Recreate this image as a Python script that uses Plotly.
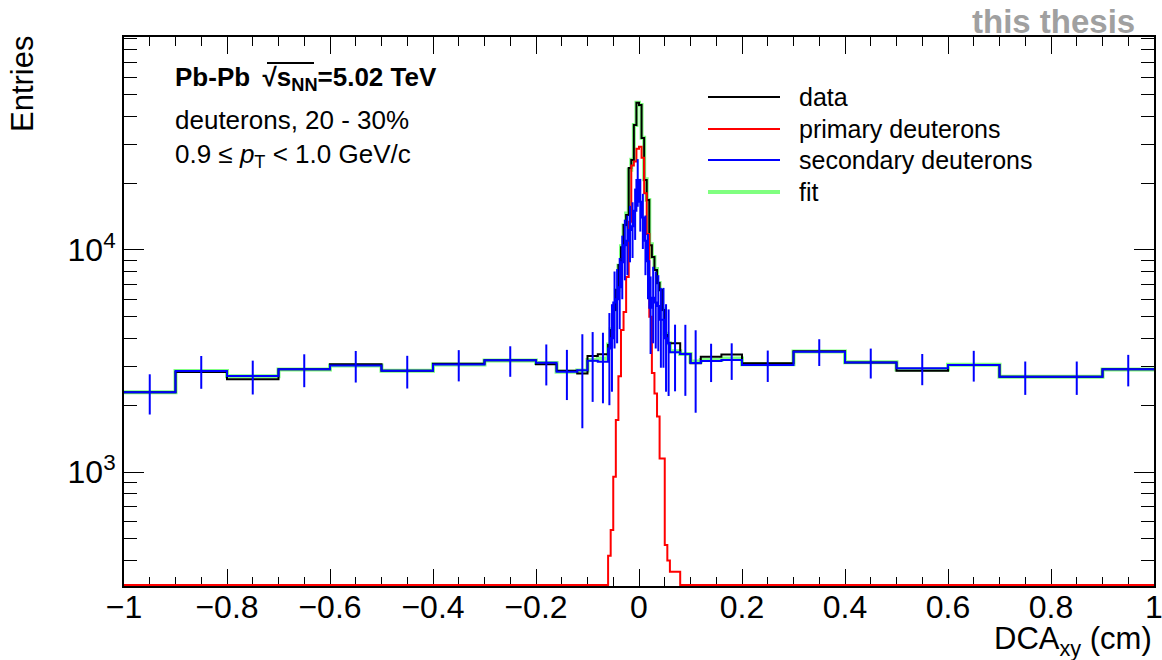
import numpy as np
import plotly.graph_objects as go

# ---------------- data ----------------
BIN_EDGES = [-1.0, -0.9, -0.8, -0.7, -0.6, -0.5, -0.4, -0.3, -0.2,
             -0.16, -0.12, -0.10, -0.08, -0.06,
             -0.055, -0.05, -0.045, -0.04, -0.035, -0.03, -0.025, -0.02, -0.015, -0.01, -0.005, 0.0,
             0.005, 0.01, 0.015, 0.02, 0.025, 0.03, 0.035, 0.04, 0.045, 0.05, 0.055, 0.06,
             0.08, 0.10, 0.12, 0.16, 0.20,
             0.3, 0.4, 0.5, 0.6, 0.7, 0.8, 0.9, 1.0]

data_counts = [2286, 2820, 2615, 2901, 3055, 2858, 3077, 3185,
               3055, 2860, 2780, 3335, 3390,
               3730, 4365, 5370, 6600, 8560, 10300, 12960, 14370, 23400, 25400, 36500, 46000,
               45000, 31900, 20650, 16800, 10500, 9300, 8130, 7100, 6600, 5370, 4140, 3810,
               3800, 3404, 3090, 3305, 3388,
               3090, 3500, 3118, 2858, 3035, 2686, 2686, 2901]

primary_counts = [0, 0, 0, 0, 0, 0, 0, 0,
                  0, 0, 0, 0, 0,
                  420, 548, 953, 1714, 2700, 4365, 5260, 7550, 13400, 24000, 25000, 28600,
                  29200, 26000, 18000, 11800, 5000, 2790, 2260, 1780, 1150, 1150, 470, 400,
                  356, 0, 0, 0, 0,
                  0, 0, 0, 0, 0, 0, 0, 0]

secondary_counts = [2286, 2851, 2705, 2901, 3020, 2858, 3050, 3185,
                    3105, 2830, 2875, 3170, 3140,
                    3600, 4000, 5800, 6000, 6800, 8800, 10500, 11000, 12300, 12800, 15000, 20650,
                    16500, 14000, 11000, 8900, 5500, 6100, 5800, 5600, 4850, 4850, 4000, 3800,
                    3460, 3404, 3100, 3163, 3200,
                    3035, 3484, 3118, 2931, 3035, 2686, 2686, 2901]

secondary_errors = [470, 480, 470, 490, 490, 480, 490, 500,
                    650, 720, 1300, 1100, 1100,
                    1600, 1700, 2200, 2200, 2400, 2800, 3200, 3300, 3500, 3600, 3900, 5000,
                    4400, 3900, 3300, 2900, 2100, 2300, 2200, 2100, 1900, 1900, 1700, 1600,
                    1150, 1200, 1250, 620, 600,
                    490, 480, 480, 470, 480, 460, 460, 470]

fit_counts = [2290, 2850, 2700, 2900, 3020, 2860, 3050, 3180,
              3100, 2830, 2870, 3200, 3250,
              3750, 4400, 5400, 6600, 8500, 10400, 12900, 14600, 23000, 25500, 36500, 46000,
              45000, 32000, 20800, 16800, 10600, 9300, 8200, 7100, 6600, 5400, 4200, 3800,
              3500, 3404, 3150, 3200, 3250,
              3060, 3490, 3120, 2900, 3040, 2690, 2690, 2900]

X_TICKS = [-1.0, -0.8, -0.6, -0.4, -0.2, 0.0, 0.2, 0.4, 0.6, 0.8, 1.0]
X_TICK_LABELS = ["\u22121", "\u22120.8", "\u22120.6", "\u22120.4", "\u22120.2", "0",
                 "0.2", "0.4", "0.6", "0.8", "1"]
Y_TICKS = [1e3, 1e4]
Y_TICK_LABELS = ["10<sup>3</sup>", "10<sup>4</sup>"]
Y_MINOR_TICKS = [400, 500, 600, 700, 800, 900,
                 2000, 3000, 4000, 5000, 6000, 7000, 8000, 9000,
                 20000, 30000, 40000, 50000, 60000, 70000, 80000, 90000]

LEGEND_LABELS = ["data", "primary deuterons", "secondary deuterons", "fit"]

# ---------------- layout geometry ----------------
W, H = 1162, 660
ML, MR, MT, MB = 124, 8, 37, 74
Y_LOG_RANGE = [2.487, 4.959]
FONT = "Liberation Sans, Arial, Helvetica, sans-serif"

def pxx(px):
    return (px - ML) / (W - ML - MR)

def pxy(py):
    return (H - MB - py) / (H - MT - MB)

edges = np.array(BIN_EDGES)
centers = 0.5 * (edges[:-1] + edges[1:])
floor_val = 10 ** (Y_LOG_RANGE[0] + 0.004)  # empty bins drawn on the frame bottom (ROOT log style)


def step_xy(vals):
    v = np.maximum(np.array(vals, dtype=float), floor_val)
    x = list(edges)
    y = list(v) + [v[-1]]
    return x, y


fig = go.Figure()

COL_DATA = "#000000"
COL_PRIM = "#ff0000"
COL_SEC = "#0000ff"
COL_FIT = "#80ff80"

x, y = step_xy(fit_counts)
fig.add_trace(go.Scatter(x=x, y=y, mode="lines", line=dict(shape="hv", color=COL_FIT, width=4),
                         name="fit", hoverinfo="skip"))
x, y = step_xy(data_counts)
fig.add_trace(go.Scatter(x=x, y=y, mode="lines", line=dict(shape="hv", color=COL_DATA, width=2),
                         name="data", hoverinfo="skip"))
x, y = step_xy(primary_counts)
fig.add_trace(go.Scatter(x=x, y=y, mode="lines", line=dict(shape="hv", color=COL_PRIM, width=2),
                         name="primary deuterons", hoverinfo="skip"))
x, y = step_xy(secondary_counts)
fig.add_trace(go.Scatter(x=x, y=y, mode="lines", line=dict(shape="hv", color=COL_SEC, width=2),
                         name="secondary deuterons", hoverinfo="skip"))
fig.add_trace(go.Scatter(x=centers, y=secondary_counts, mode="markers",
                         marker=dict(size=0.1, color=COL_SEC),
                         error_y=dict(type="data", array=secondary_errors, visible=True,
                                      color=COL_SEC, thickness=2, width=0),
                         showlegend=False, hoverinfo="skip"))

fig.update_layout(
    width=W, height=H,
    margin=dict(l=ML, r=MR, t=MT, b=MB, autoexpand=False),
    plot_bgcolor="white", paper_bgcolor="white",
    showlegend=False,
    font=dict(family=FONT, color="black"),
)

fig.update_xaxes(
    range=[-1, 1], tickmode="array", tickvals=X_TICKS, ticktext=X_TICK_LABELS,
    ticks="inside", ticklen=17, tickwidth=1, tickcolor="black",
    minor=dict(tick0=-1, dtick=0.05, ticks="inside", ticklen=9, tickwidth=1, tickcolor="black"),
    showline=True, linecolor="black", linewidth=2, mirror="allticks",
    showgrid=False, zeroline=False, tickfont=dict(size=32, family=FONT, color="black"),
    ticklabelstandoff=-8, ticklabeloverflow="allow", automargin=False,
    layer="below traces",
)
fig.update_yaxes(
    type="log", range=Y_LOG_RANGE, tickmode="array", tickvals=Y_TICKS, ticktext=Y_TICK_LABELS,
    ticks="inside", ticklen=20, tickwidth=1, tickcolor="black",
    minor=dict(tickmode="array", tickvals=Y_MINOR_TICKS, ticks="inside", ticklen=13,
               tickwidth=1, tickcolor="black"),
    showline=True, linecolor="black", linewidth=2, mirror="allticks",
    showgrid=False, zeroline=False, tickfont=dict(size=32, family=FONT, color="black"),
    ticklabeloverflow="allow", automargin=False,
    layer="below traces",
)

ann = []
# axis titles
ann.append(dict(text="DCA<sub>xy</sub> (cm)", x=pxx(1154), y=pxy(641), xref="paper", yref="paper",
                xanchor="right", yanchor="middle", showarrow=False,
                font=dict(size=31, family=FONT, color="black")))
ann.append(dict(text="Entries", x=pxx(22), y=pxy(34), xref="paper", yref="paper",
                xanchor="center", yanchor="top", textangle=-90, showarrow=False,
                font=dict(size=31, family=FONT, color="black")))
# watermark
ann.append(dict(text="<b>this thesis</b>", x=pxx(1137), y=pxy(22), xref="paper", yref="paper",
                xanchor="right", yanchor="middle", showarrow=False,
                font=dict(size=33, family=FONT, color="#a0a0a0")))
# info texts
ann.append(dict(text="<b>Pb-Pb \u2009\u221as<sub>NN</sub>=5.02 TeV</b>",
                x=pxx(173), y=pxy(78), xref="paper", yref="paper",
                xanchor="left", yanchor="middle", showarrow=False,
                font=dict(size=26, family=FONT, color="black")))
ann.append(dict(text="deuterons, 20 - 30%", x=pxx(173), y=pxy(120), xref="paper", yref="paper",
                xanchor="left", yanchor="middle", showarrow=False,
                font=dict(size=26, family=FONT, color="black")))
ann.append(dict(text="0.9 \u2264 <i>p</i><sub>T</sub> < 1.0 GeV/c", x=pxx(173), y=pxy(155),
                xref="paper", yref="paper", xanchor="left", yanchor="middle", showarrow=False,
                font=dict(size=26, family=FONT, color="black")))

shapes = []
# sqrt bar over s_NN
shapes.append(dict(type="line", xref="paper", yref="paper", x0=pxx(267), x1=pxx(314),
                   y0=pxy(63), y1=pxy(63), line=dict(color="black", width=2)))

# legend (ROOT-style, drawn manually)
leg_rows = [97, 129, 160, 192]
leg_cols = [COL_DATA, COL_PRIM, COL_SEC, COL_FIT]
leg_w = [2, 2, 2, 4]
for lab, row, col, lw in zip(LEGEND_LABELS, leg_rows, leg_cols, leg_w):
    shapes.append(dict(type="line", xref="paper", yref="paper", x0=pxx(708), x1=pxx(780),
                       y0=pxy(row), y1=pxy(row), line=dict(color=col, width=lw)))
    ann.append(dict(text=lab, x=pxx(797), y=pxy(row), xref="paper", yref="paper",
                    xanchor="left", yanchor="middle", showarrow=False,
                    font=dict(size=25, family=FONT, color="black")))

fig.update_layout(annotations=ann, shapes=shapes)

fig.write_html("out.html")
